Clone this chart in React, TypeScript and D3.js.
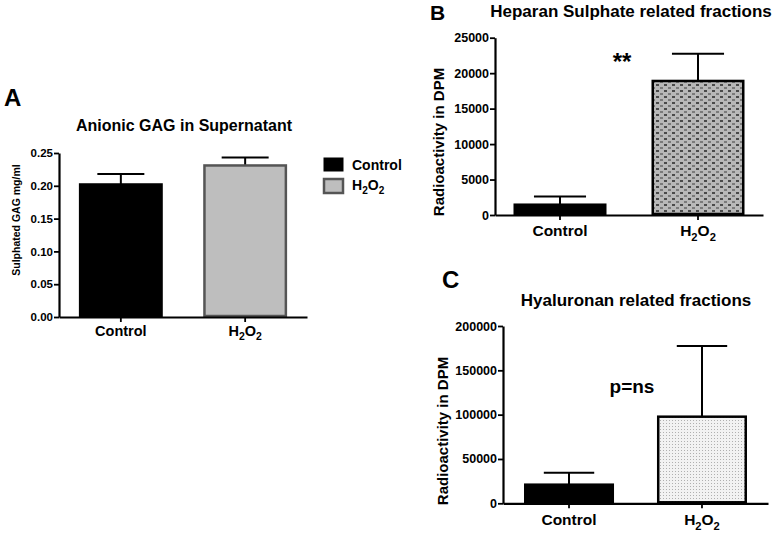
import React, { useEffect, useRef } from 'react';
import * as d3 from 'd3';

// groups on the x axis (all three panels)
const categories = ['Control', 'H2O2'];

// A: anionic GAG in supernatant (mg/ml)
const gagMean = [0.202, 0.231];
const gagErr = [0.016, 0.012];
const gagTicks = [0, 0.05, 0.1, 0.15, 0.2, 0.25];

// B: heparan sulphate related fractions (DPM)
const hsMean = [1450, 18900];
const hsErr = [1150, 3850];
const hsTicks = [0, 5000, 10000, 15000, 20000, 25000];

// C: hyaluronan related fractions (DPM)
const haMean = [21000, 97700];
const haErr = [13500, 79700];
const haTicks = [0, 50000, 100000, 150000, 200000];

const FONT = '"Liberation Sans", Arial, Helvetica, sans-serif';

type Panel = {
  x0: number; x1: number; yTop: number; yBot: number;
  max: number; ticks: number[]; fmt: (v: number) => string;
  mean: number[]; err: number[];
  fills: string[]; strokes: string[];
  padIn: number; padOut: number;
  labelY: number; tickFont: number; labelFont: number;
};

// writes "H2O2" with subscripts, anything else as plain text
const addLabel = (sel: d3.Selection<SVGTextElement, unknown, null, undefined>, name: string, size: number) => {
  if (name !== 'H2O2') { sel.text(name); return; }
  const sh = size * 0.3;
  sel.append('tspan').text('H');
  sel.append('tspan').text('2').attr('dy', sh).style('font-size', `${size * 0.72}px`);
  sel.append('tspan').text('O').attr('dy', -sh);
  sel.append('tspan').text('2').attr('dy', sh).style('font-size', `${size * 0.72}px`);
};

const App = () => {
  const ref = useRef<SVGSVGElement | null>(null);

  useEffect(() => {
    document.body.style.margin = '0';
    const svg = d3.select(ref.current);
    svg.selectAll('*').remove();

    // fill patterns for B and C
    const defs = svg.append('defs');
    const pb = defs.append('pattern').attr('id', 'patB').attr('patternUnits', 'userSpaceOnUse')
      .attr('width', 8).attr('height', 6);
    pb.append('rect').attr('width', 8).attr('height', 6).attr('fill', '#b8b8b8');
    pb.append('rect').attr('x', 0).attr('y', 0).attr('width', 3).attr('height', 2).attr('fill', '#4a4a4a');
    pb.append('rect').attr('x', 4).attr('y', 3).attr('width', 3).attr('height', 2).attr('fill', '#7a7a7a');
    const pc = defs.append('pattern').attr('id', 'patC').attr('patternUnits', 'userSpaceOnUse')
      .attr('width', 3).attr('height', 3);
    pc.append('rect').attr('width', 3).attr('height', 3).attr('fill', '#f2f2f2');
    pc.append('rect').attr('width', 1).attr('height', 1).attr('fill', '#b0b0b0');

    const drawPanel = (p: Panel) => {
      const g = svg.append('g');
      const x = d3.scaleBand<string>().domain(categories).range([p.x0, p.x1])
        .paddingInner(p.padIn).paddingOuter(p.padOut);
      const y = d3.scaleLinear().domain([0, p.max]).range([p.yBot, p.yTop]);
      const bw = x.bandwidth();

      // error bars (upper only)
      categories.forEach((c, i) => {
        const cx = x(c)! + bw / 2;
        const top = y(p.mean[i] + p.err[i]);
        g.append('line').attr('x1', cx).attr('x2', cx).attr('y1', y(p.mean[i])).attr('y2', top)
          .attr('stroke', '#000').attr('stroke-width', 2);
        g.append('line').attr('x1', cx - bw * 0.28).attr('x2', cx + bw * 0.28).attr('y1', top).attr('y2', top)
          .attr('stroke', '#000').attr('stroke-width', 2);
      });

      g.selectAll('rect.bar').data(categories).enter().append('rect')
        .attr('class', 'bar')
        .attr('x', d => x(d)! + 1.25)
        .attr('width', bw - 2.5)
        .attr('y', (d, i) => y(p.mean[i]))
        .attr('height', (d, i) => p.yBot - y(p.mean[i]) - 1)
        .attr('fill', (d, i) => p.fills[i])
        .attr('stroke', (d, i) => p.strokes[i])
        .attr('stroke-width', 2.5);

      // y axis
      const ya = g.append('g').attr('transform', `translate(${p.x0},0)`)
        .call(d3.axisLeft(y).tickValues(p.ticks).tickFormat(d => p.fmt(d as number)).tickSize(5).tickPadding(1).tickSizeOuter(0));
      ya.select('.domain').attr('stroke-width', 2.2);
      ya.selectAll('line').attr('stroke-width', 1.8);
      ya.selectAll('text').style('font-family', FONT).style('font-weight', 'bold')
        .style('font-size', `${p.tickFont}px`).attr('fill', '#000');

      // x axis
      const xa = g.append('g').attr('transform', `translate(0,${p.yBot})`)
        .call(d3.axisBottom(x).tickSize(5).tickSizeOuter(0).tickFormat(() => ''));
      xa.select('.domain').attr('stroke-width', 2.2);
      xa.selectAll('line').attr('stroke-width', 1.8);

      categories.forEach(c => {
        const t = g.append('text').attr('x', x(c)! + bw / 2).attr('y', p.labelY)
          .attr('text-anchor', 'middle').style('font-family', FONT).style('font-weight', 'bold')
          .style('font-size', `${p.labelFont}px`);
        addLabel(t, c, p.labelFont);
      });
    };

    drawPanel({
      x0: 59, x1: 307, yTop: 153, yBot: 317, max: 0.25, ticks: gagTicks, fmt: d3.format('.2f'),
      mean: gagMean, err: gagErr, fills: ['#000', '#bebebe'], strokes: ['#000', '#555'],
      padIn: 0.325, padOut: 0.16, labelY: 336, tickFont: 11.5, labelFont: 14.5,
    });
    drawPanel({
      x0: 495, x1: 763, yTop: 37.7, yBot: 215, max: 25000, ticks: hsTicks, fmt: d3.format('d'),
      mean: hsMean, err: hsErr, fills: ['#000', 'url(#patB)'], strokes: ['#000', '#000'],
      padIn: 0.326, padOut: 0.134, labelY: 236, tickFont: 12.5, labelFont: 15.5,
    });
    drawPanel({
      x0: 503, x1: 768, yTop: 326, yBot: 503.3, max: 200000, ticks: haTicks, fmt: d3.format('d'),
      mean: haMean, err: haErr, fills: ['#000', 'url(#patC)'], strokes: ['#000', '#000'],
      padIn: 0.323, padOut: 0.158, labelY: 525, tickFont: 12.5, labelFont: 15.5,
    });

    const txt = (x: number, y: number, s: string, size: number, anchor = 'middle', rot = 0) =>
      svg.append('text').attr('x', x).attr('y', y).attr('text-anchor', anchor)
        .attr('transform', rot ? `rotate(${rot},${x},${y})` : null)
        .style('font-family', FONT).style('font-weight', 'bold').style('font-size', `${size}px`)
        .text(s);

    // panel letters
    txt(4, 106, 'A', 24, 'start');
    txt(430, 20, 'B', 21, 'start');
    txt(442, 288, 'C', 24, 'start');

    // titles
    txt(184, 131, 'Anionic GAG in Supernatant', 16);
    txt(631, 17, 'Heparan Sulphate related fractions', 17);
    txt(636, 306, 'Hyaluronan related fractions', 17);

    // y axis labels
    txt(20, 220, 'Sulphated GAG mg/ml', 10.5, 'middle', -90);
    txt(444, 142, 'Radioactivity in DPM', 15, 'middle', -90);
    txt(448, 431, 'Radioactivity in DPM', 15, 'middle', -90);

    // significance marks
    txt(622, 70, '**', 24);
    txt(632, 393, 'p=ns', 19);

    // legend for A
    const lg = svg.append('g');
    categories.forEach((c, i) => {
      const yy = 158 + i * 20;
      lg.append('rect').attr('x', 324).attr('y', yy + (i ? 1 : 0)).attr('width', 19).attr('height', i ? 14 : 13)
        .attr('fill', i ? '#bebebe' : '#000').attr('stroke', i ? '#555' : '#000').attr('stroke-width', i ? 2.5 : 1);
      const t = lg.append('text').attr('x', 352).attr('y', yy + 12)
        .style('font-family', FONT).style('font-weight', 'bold').style('font-size', '14px');
      addLabel(t, c, 14);
    });
  }, []);

  return <svg ref={ref} width={776} height={534} style={{ display: 'block', background: '#fff' }} />;
};

export default App;
